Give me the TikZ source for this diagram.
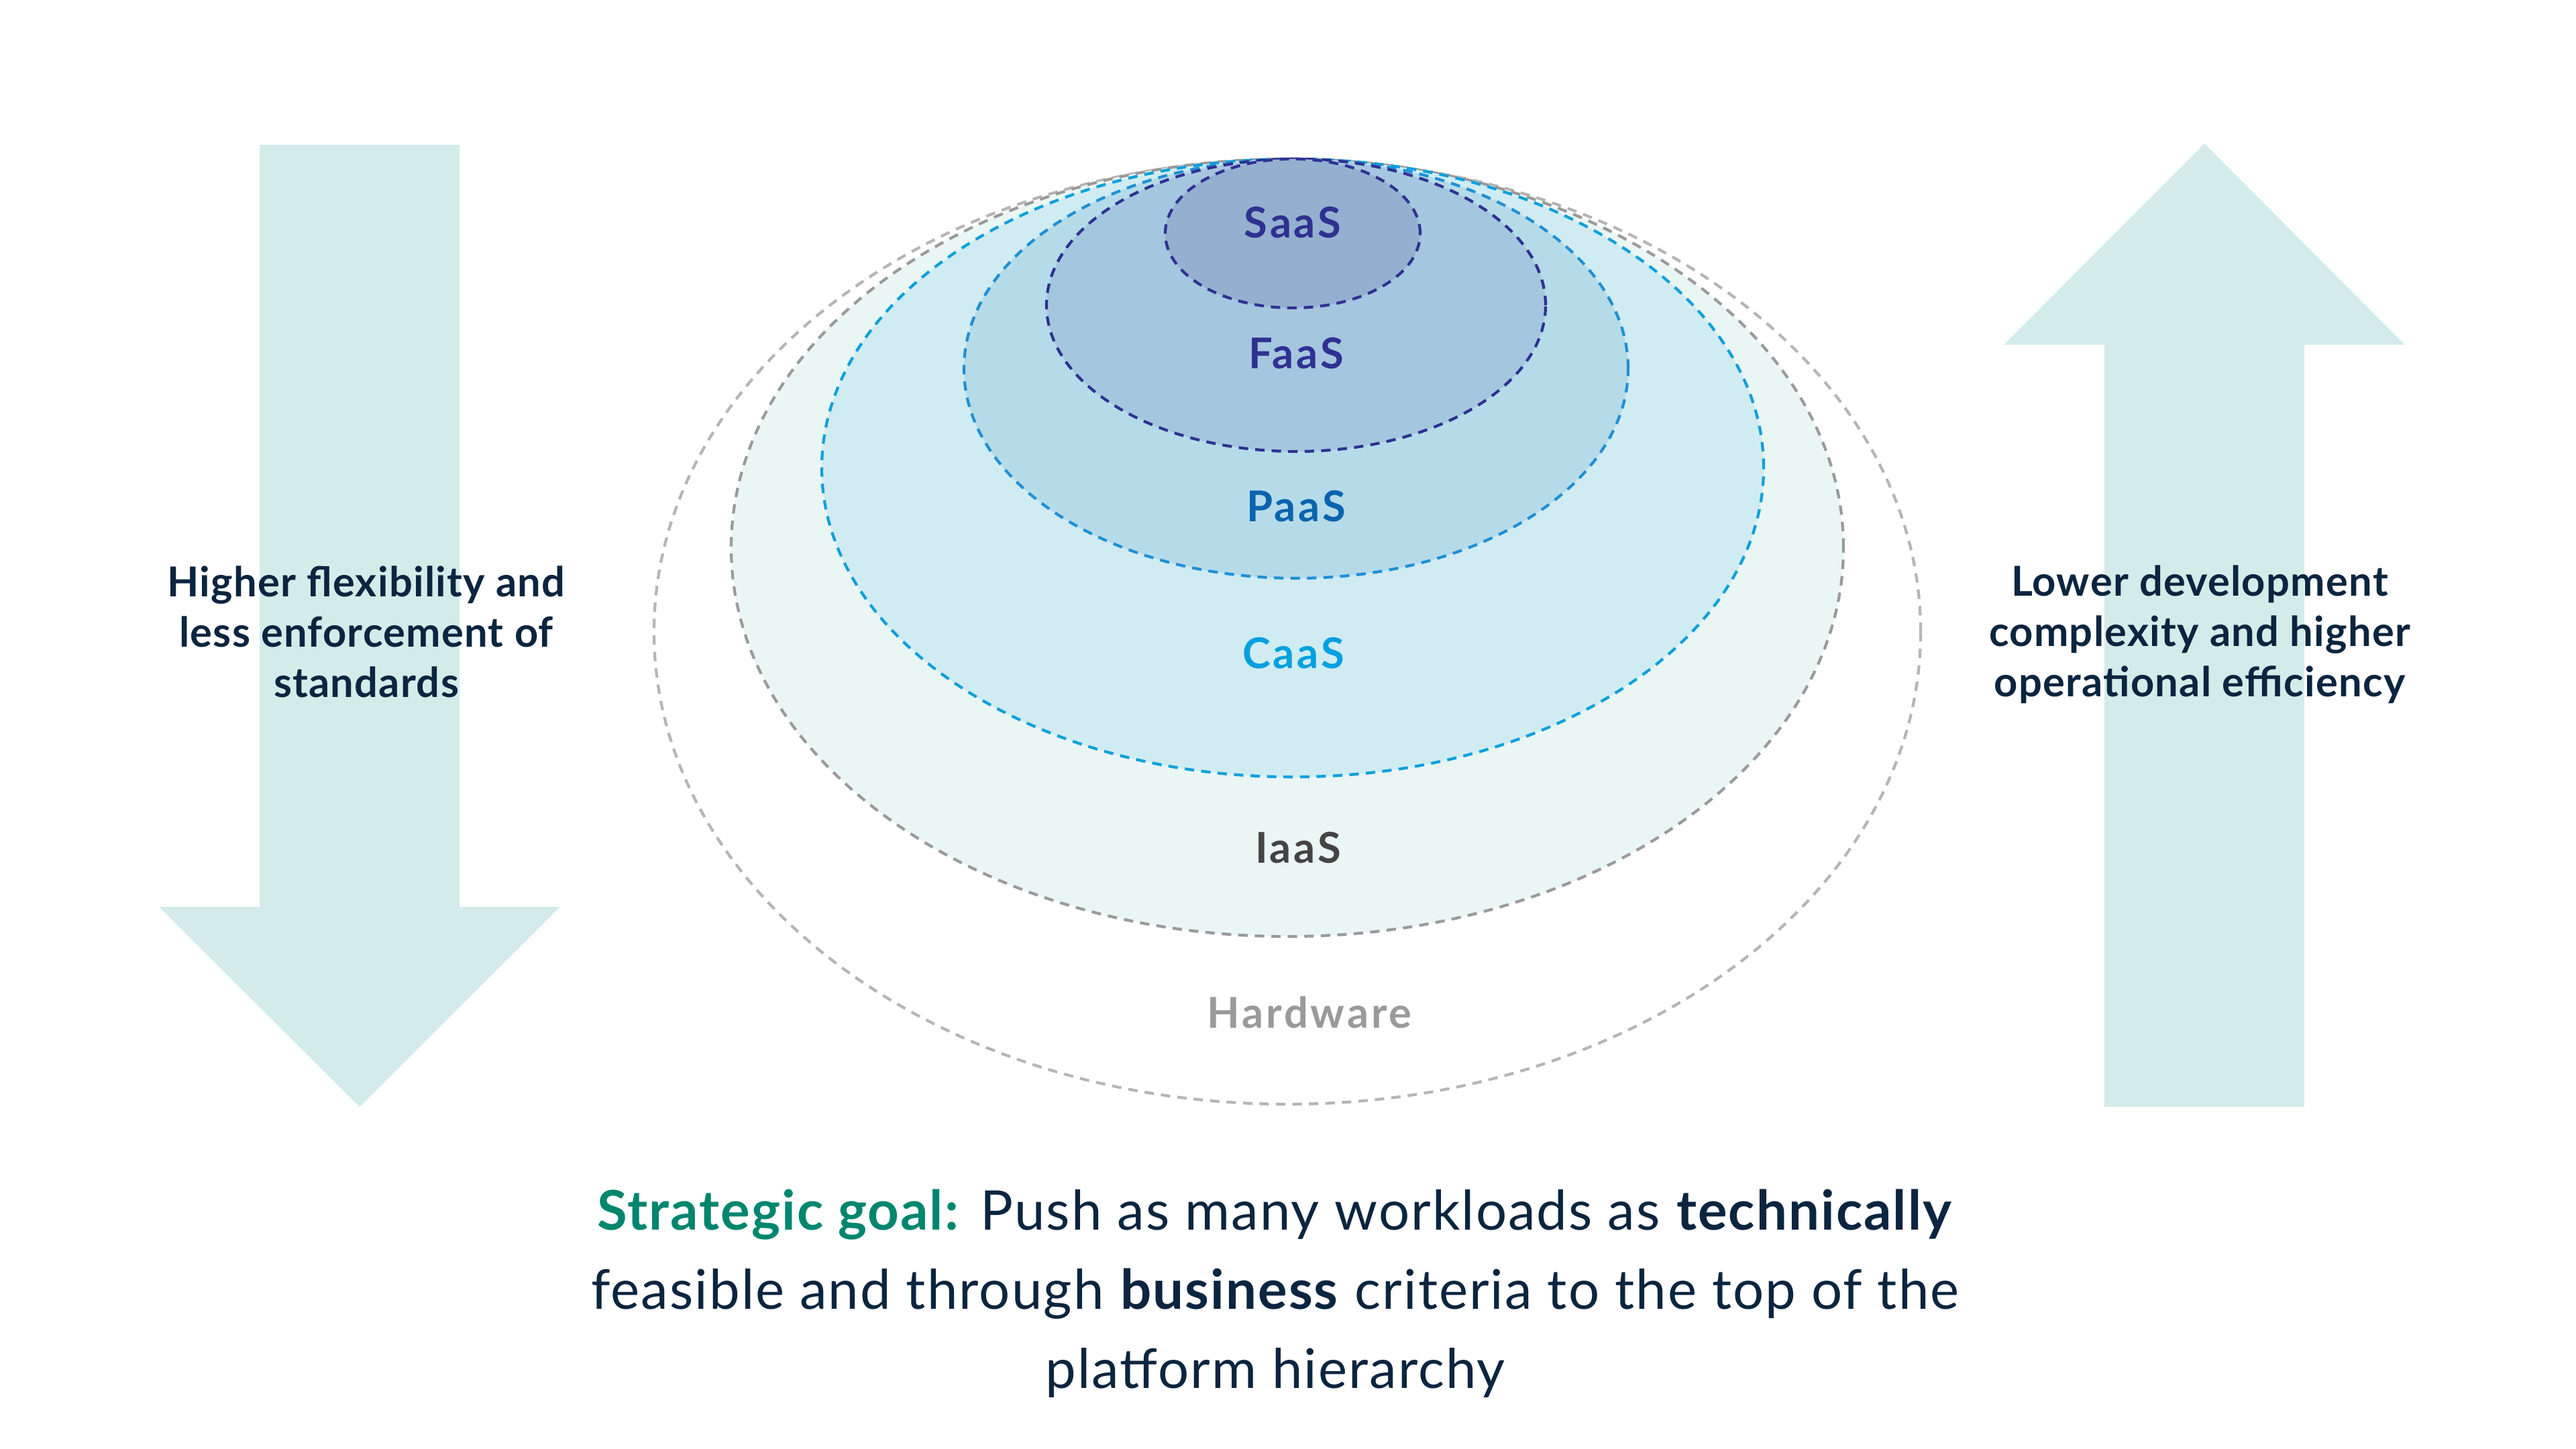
\documentclass[tikz,border=0pt]{standalone}
\usepackage{fontspec}
\setmainfont{Lato}
\newfontfamily\lblfont[LetterSpace=6]{Lato}
\newfontfamily\sidefont[LetterSpace=2]{Lato}
\newfontfamily\goalfont[LetterSpace=2.5]{Lato}
\usepackage{tikz}

\definecolor{arrowfill}{HTML}{D4ECE9}
\definecolor{hwline}{HTML}{B5B5B5}
\definecolor{hwtext}{HTML}{9A9A9A}
\definecolor{iaasline}{HTML}{9A9A9A}
\definecolor{iaasfill}{HTML}{EAF6F4}
\definecolor{iaastext}{HTML}{444444}
\definecolor{caasline}{HTML}{0AA0DC}
\definecolor{caasfill}{HTML}{D0ECF2}
\definecolor{caastext}{HTML}{00A0E0}
\definecolor{paasline}{HTML}{1E90D6}
\definecolor{paasfill}{HTML}{B5DBE9}
\definecolor{paastext}{HTML}{0A64AE}
\definecolor{faasline}{HTML}{2E3192}
\definecolor{faasfill}{HTML}{A5C6DF}
\definecolor{saasfill}{HTML}{94B0D0}
\definecolor{navytext}{HTML}{0B2540}
\definecolor{goalgreen}{HTML}{00866E}

\begin{document}
\begin{tikzpicture}[
        layer/.style={line width=1.2pt, dash pattern=on 4pt off 3pt},
        lbl/.style={font=\lblfont\fontsize{18}{21}\selectfont\bfseries, anchor=base},
        side/.style={font=\sidefont\fontsize{17.5}{21.3}\selectfont\bfseries, text=navytext, align=center},
        bigarrow/.style={fill=arrowfill}
    ]
                \useasboundingbox (0,0) rectangle (38.4,21.6);
                % the two big arrows
                \fill [bigarrow] (3.87,19.44) -- (6.85,19.44) -- (6.85,8.08) -- (8.35,8.08) -- (5.36,5.1) -- (2.37,8.08) -- (3.87,8.08) -- cycle;
                \fill [bigarrow] (31.37,5.1) -- (34.35,5.1) -- (34.35,16.46) -- (35.85,16.46) -- (32.86,19.46) -- (29.87,16.46) -- (31.37,16.46) -- cycle;
                % layers, outer to inner
                \draw [layer, draw=hwline] (19.19,12.18) ellipse [x radius=9.44, y radius=7.04];
                \filldraw [layer, draw=iaasline, fill=iaasfill] (19.19,13.435) ellipse [x radius=8.29, y radius=5.795];
                \filldraw [layer, draw=caasline, fill=caasfill] (19.27,14.624) ellipse [x radius=7.02, y radius=4.606];
                \filldraw [layer, draw=paasline, fill=paasfill] (19.32,16.105) ellipse [x radius=4.95, y radius=3.125];
                \filldraw [layer, draw=faasline, fill=faasfill] (19.32,17.05) ellipse [x radius=3.72, y radius=2.18];
                \filldraw [layer, draw=faasline, fill=saasfill] (19.27,18.12) ellipse [x radius=1.9, y radius=1.11];
                % layer names
                \node [lbl, text=faasline] (saas) at (19.27,18.05) {SaaS};
                \node [lbl, text=faasline] (faas) at (19.32,16.1) {FaaS};
                \node [lbl, text=paastext] (paas) at (19.32,13.82) {PaaS};
                \node [lbl, text=caastext] (caas) at (19.28,11.63) {CaaS};
                \node [lbl, text=iaastext] (iaas) at (19.35,8.73) {IaaS};
                \node [lbl, text=hwtext] (hw) at (19.52,6.27) {Hardware};
                % side texts
                \node [side] (left) at (5.46,12.18) {Higher flexibility and\\less enforcement of\\standards};
                \node [side] (right) at (32.79,12.14) {Lower development\\complexity and higher\\operational efficiency};
                \node [font=\goalfont\fontsize{23.2}{33.5}\selectfont, text=navytext, align=center] (goal) at (19.01,2.32) {\textcolor{goalgreen}{\textbf{Strategic goal:}} Push as many workloads as \textbf{technically}\\feasible and through \textbf{business} criteria to the top of the\\platform hierarchy};
            \end{tikzpicture}
\end{document}
